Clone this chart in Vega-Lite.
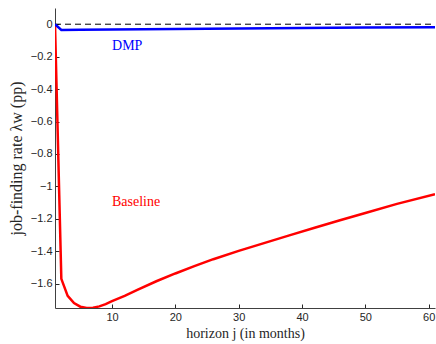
{
  "$schema": "https://vega.github.io/schema/vega-lite/v6.json",
  "width": 380,
  "height": 300,
  "autosize": "none",
  "padding": {"left": 55, "top": 8, "right": 1, "bottom": 36},
  "background": "white",
  "config": {
    "view": {"stroke": null},
    "axis": {
      "labelOverlap": false,
      "grid": false,
      "labelFont": "Liberation Sans", "labelFontSize": 11, "labelColor": "#262626",
      "titleFont": "Liberation Serif", "titleFontWeight": "normal", "titleColor": "#262626",
      "domainColor": "#404040", "tickColor": "#262626", "tickSize": -4, "labelPadding": 7
    }
  },
  "datasets": {
    "lines": [
      {"j": 1, "v": 0, "s": "Baseline"},
      {"j": 2, "v": -1.57, "s": "Baseline"},
      {"j": 3, "v": -1.675, "s": "Baseline"},
      {"j": 4, "v": -1.72, "s": "Baseline"},
      {"j": 5, "v": -1.742, "s": "Baseline"},
      {"j": 6, "v": -1.75, "s": "Baseline"},
      {"j": 7, "v": -1.748, "s": "Baseline"},
      {"j": 8, "v": -1.74, "s": "Baseline"},
      {"j": 9, "v": -1.726, "s": "Baseline"},
      {"j": 10, "v": -1.708, "s": "Baseline"},
      {"j": 12, "v": -1.675, "s": "Baseline"},
      {"j": 14, "v": -1.638, "s": "Baseline"},
      {"j": 17, "v": -1.585, "s": "Baseline"},
      {"j": 20, "v": -1.537, "s": "Baseline"},
      {"j": 23, "v": -1.492, "s": "Baseline"},
      {"j": 26, "v": -1.449, "s": "Baseline"},
      {"j": 30, "v": -1.398, "s": "Baseline"},
      {"j": 34, "v": -1.35, "s": "Baseline"},
      {"j": 38, "v": -1.302, "s": "Baseline"},
      {"j": 42, "v": -1.255, "s": "Baseline"},
      {"j": 46, "v": -1.209, "s": "Baseline"},
      {"j": 50, "v": -1.164, "s": "Baseline"},
      {"j": 55, "v": -1.108, "s": "Baseline"},
      {"j": 61, "v": -1.048, "s": "Baseline"},
      {"j": 1, "v": 0, "s": "DMP"},
      {"j": 2, "v": -0.035, "s": "DMP"},
      {"j": 5, "v": -0.034, "s": "DMP"},
      {"j": 10, "v": -0.033, "s": "DMP"},
      {"j": 20, "v": -0.03, "s": "DMP"},
      {"j": 30, "v": -0.027, "s": "DMP"},
      {"j": 40, "v": -0.024, "s": "DMP"},
      {"j": 50, "v": -0.021, "s": "DMP"},
      {"j": 61, "v": -0.018, "s": "DMP"}
    ],
    "zero": [{"j": 1, "v": 0}, {"j": 61, "v": 0}],
    "labels": [
      {"j": 12.4, "v": -0.135, "s": "DMP"},
      {"j": 13.8, "v": -1.095, "s": "Baseline"}
    ]
  },
  "encoding": {
    "x": {
      "field": "j", "type": "quantitative",
      "scale": {"domain": [1, 61], "nice": false, "zero": false},
      "axis": {
        "values": [10, 20, 30, 40, 50, 60],
        "title": "horizon j (in months)",
        "titleFontSize": 14,
        "titlePadding": 4
      }
    },
    "y": {
      "field": "v", "type": "quantitative",
      "scale": {"domain": [-1.75, 0.1], "nice": false, "zero": false},
      "axis": {
        "values": [0, -0.2, -0.4, -0.6, -0.8, -1, -1.2, -1.4, -1.6],
        "format": ".1~f",
        "labelOverlap": false,
        "labelSeparation": 0,
        "title": "job-finding rate λw (pp)",
        "titleFontSize": 16,
        "titlePadding": 6
      }
    }
  },
  "layer": [
    {
      "data": {"name": "zero"},
      "mark": {"type": "line", "color": "black", "strokeWidth": 1, "strokeDash": [6, 4]},
      "encoding": {}
    },
    {
      "data": {"name": "lines"},
      "mark": {"type": "line", "strokeWidth": 2.5, "clip": true},
      "encoding": {
        "color": {
          "field": "s", "type": "nominal",
          "scale": {"domain": ["Baseline", "DMP"], "range": ["#ff0000", "#0000ff"]},
          "legend": null
        }
      }
    },
    {
      "data": {"name": "labels"},
      "mark": {"type": "text", "font": "Liberation Serif", "fontSize": 14, "align": "center", "baseline": "middle"},
      "encoding": {
        "text": {"field": "s"},
        "color": {
          "field": "s", "type": "nominal",
          "scale": {"domain": ["Baseline", "DMP"], "range": ["#ff0000", "#0000ff"]},
          "legend": null
        }
      }
    }
  ]
}
